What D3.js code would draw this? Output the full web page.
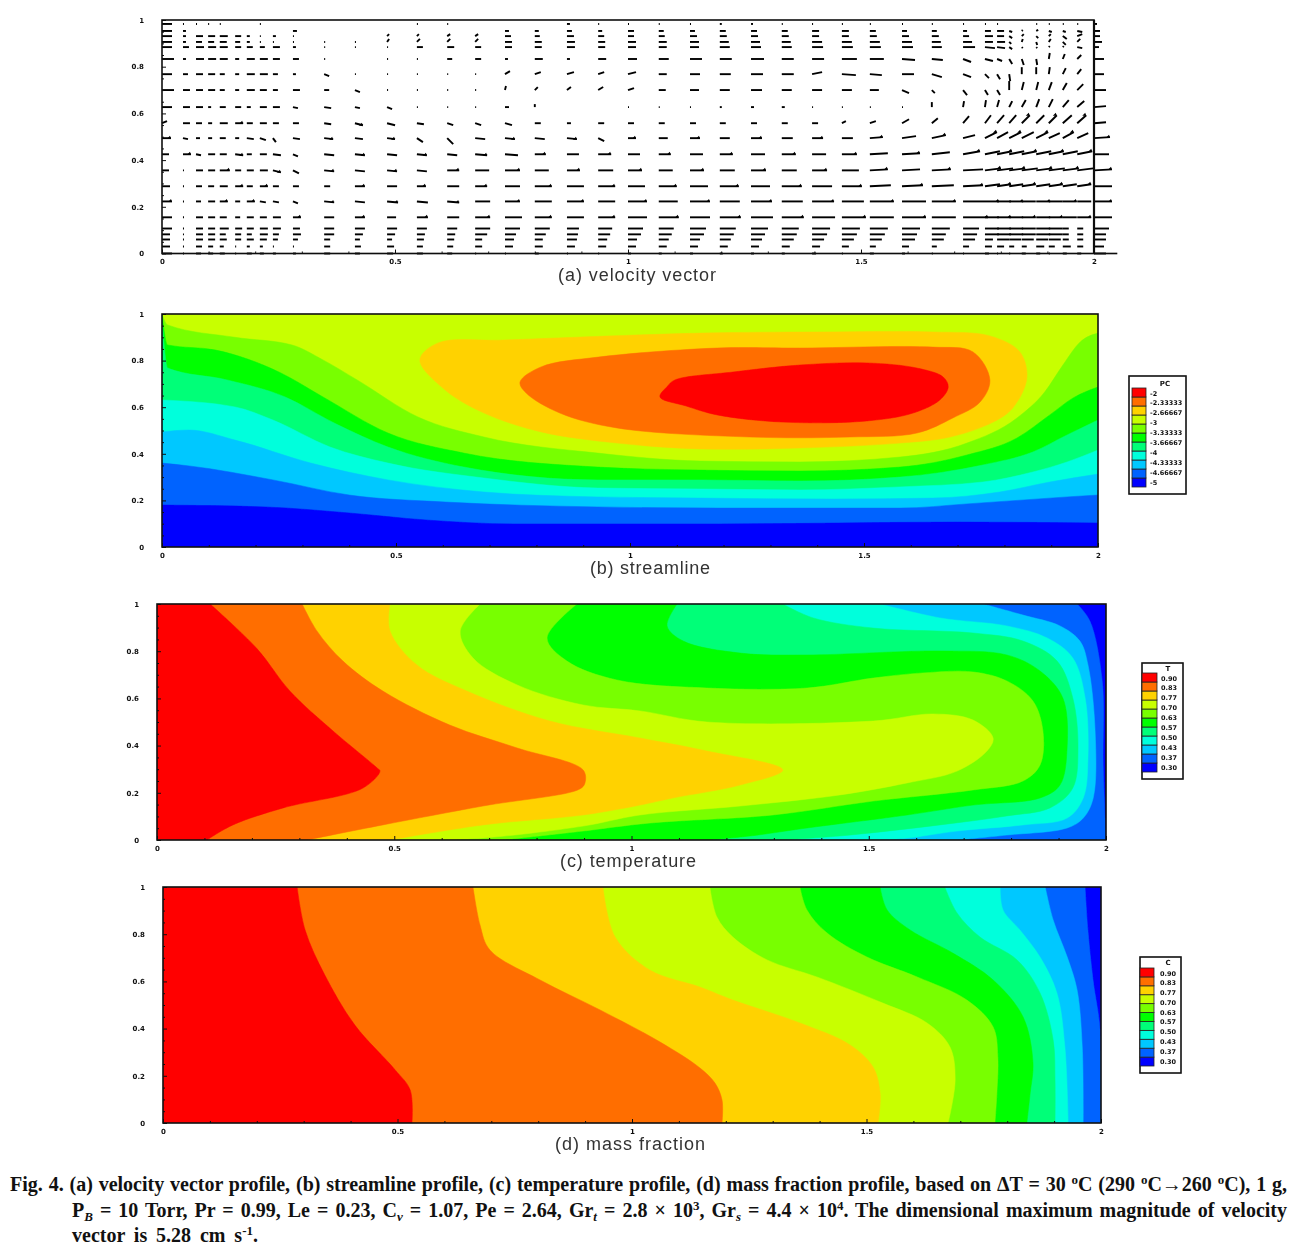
<!DOCTYPE html>
<html>
<head>
<meta charset="utf-8">
<script src="https://cdn.jsdelivr.net/npm/d3@7"></script>
<style>
  html, body { margin:0; padding:0; background:#fff; }
  svg { display:block; }
</style>
</head>
<body>
<div id="figure_container"></div>
<script>
// Colours shared by the three contour panels, coldest to warmest.
var band_colors = ["#0000ff","#0064ff","#00c8ff","#00ffdc","#00ff78","#00ff00","#78ff00","#c8ff00","#ffd200","#ff6e00","#ff0000"];

var x_tick_labels = [0,0.5,1,1.5,2];
var y_tick_labels = [0,0.2,0.4,0.6,0.8,1];
var x_tick_minor  = [0.1,0.2,0.3,0.4,0.6,0.7,0.8,0.9,1.1,1.2,1.3,1.4,1.6,1.7,1.8,1.9];
var y_tick_minor  = [0.05,0.1,0.15,0.25,0.3,0.35,0.45,0.5,0.55,0.65,0.7,0.75,0.85,0.9,0.95];

// (a) velocity vector, node positions and components of each vector.
var vector_x = [0,0.045,0.073,0.099,0.124,0.157,0.182,0.21,0.238,0.281,0.348,0.414,0.483,0.547,0.612,0.672,0.736,0.8,0.869,0.936,1,1.066,1.133,1.197,1.264,1.33,1.395,1.459,1.519,1.588,1.652,1.719,1.766,1.792,1.818,1.845,1.876,1.903,1.933,1.964,2];
var vector_y = [0.983,0.953,0.931,0.906,0.884,0.833,0.768,0.7,0.627,0.558,0.494,0.425,0.356,0.288,0.223,0.155,0.107,0.082,0.06,0.03,0];
var vector_u = [
  [10,1,1,1,1,0,0,1,0,0,0,0,0,1,1,0,0,0,3,1,1,1,1,2,2,1,1,1,1,1,1,1,1,1,0,0,1,1,1,1,3],
  [10,3,0,0,0,0,0,0,0,4,0,0,0,0,0,0,4,4,5,4,6,5,5,6,6,6,7,7,6,5,5,4,6,7,3,1,2,3,3,5,6],
  [10,3,7,7,8,6,3,1,3,1,0,0,2,2,3,3,6,5,7,6,6,6,7,7,7,7,7,7,7,7,7,6,8,7,3,2,2,2,4,5,6],
  [10,3,6,6,7,5,3,1,1,1,1,1,2,3,3,3,7,7,8,7,8,8,9,9,9,9,10,10,10,10,9,9,8,8,2,1,1,2,3,3,8],
  [10,6,8,8,8,6,6,5,7,3,1,1,1,6,7,6,7,7,8,7,8,8,9,10,10,10,11,11,11,11,10,12,10,8,3,1,1,1,1,5,5],
  [12,3,8,8,8,4,8,8,7,6,1,0,1,1,5,6,3,8,3,8,9,10,12,12,13,12,12,15,14,13,11,8,8,5,3,2,1,1,2,4,10],
  [10,5,7,7,5,4,8,8,5,3,5,1,1,1,1,1,5,6,7,6,8,8,10,11,12,12,10,14,12,12,10,8,4,3,1,0,0,1,3,4,10],
  [12,7,7,7,5,4,8,7,5,7,5,5,1,1,1,1,1,3,4,5,6,7,9,10,11,10,10,10,9,7,3,4,3,3,0,2,2,3,4,6,12],
  [10,7,7,3,6,6,4,7,7,5,7,5,5,1,1,1,4,0,0,0,1,1,1,2,3,3,1,1,1,1,0,1,1,2,3,4,3,4,6,7,12],
  [5,7,6,4,8,8,6,7,6,6,7,8,8,7,6,6,7,6,4,6,6,6,6,6,6,6,6,4,6,7,6,6,6,7,7,8,8,8,9,9,12],
  [9,5,4,4,6,4,7,6,3,7,9,8,8,6,6,10,10,10,10,6,8,9,10,10,11,11,11,11,13,14,14,12,12,11,12,12,12,11,11,11,16],
  [7,8,5,7,7,8,5,7,8,5,10,10,10,10,10,12,13,11,12,13,12,12,13,13,14,14,14,15,18,18,18,17,15,15,15,15,15,15,15,15,15],
  [7,1,7,7,10,6,7,8,8,6,10,10,10,10,12,14,15,14,13,15,14,14,14,15,15,15,15,17,18,18,19,20,16,16,16,16,16,16,16,16,18],
  [8,1,6,6,8,8,6,8,6,6,6,10,10,9,12,12,15,17,17,17,17,18,18,19,19,20,20,20,21,21,22,20,15,14,14,14,14,14,14,14,18],
  [10,1,5,7,8,5,8,6,6,5,10,10,11,11,12,15,15,17,17,17,19,19,20,20,21,21,22,22,24,24,24,22,14,14,14,14,14,14,14,14,18],
  [10,1,7,7,7,5,7,7,8,8,10,10,9,11,12,15,17,17,17,17,19,20,20,21,22,22,23,24,24,24,24,25,14,14,14,14,14,14,14,14,18],
  [10,1,7,7,9,7,7,8,8,7,10,10,10,10,10,15,15,15,12,14,15,15,16,16,17,17,18,18,18,18,18,16,14,14,14,14,14,14,6,6,15],
  [8,1,7,7,6,6,5,8,6,8,10,8,8,8,8,12,11,11,11,12,13,13,14,14,14,15,15,15,15,15,14,14,14,14,14,14,14,14,6,6,12],
  [8,1,7,7,7,6,7,7,5,5,6,5,5,7,7,7,9,8,10,9,9,10,10,11,11,12,12,12,12,13,12,12,8,12,12,12,12,12,6,6,12],
  [8,1,6,5,4,1,3,3,1,1,6,6,7,6,6,7,8,8,8,8,8,8,8,8,8,8,8,7,6,7,5,6,7,7,5,5,8,6,8,6,10],
  [10,1,5,5,5,1,5,4,3,3,6,5,6,6,5,1,1,4,1,1,3,3,3,3,3,3,4,1,4,3,1,1,4,1,1,4,4,1,4,4,12]
];
// Rows below the last one listed here are horizontal.
var vector_v = [
  [0,0,0,0,0,0,0,0,0,0,0,0,0,0,0,0,0,0,0,0,0,0,0,0,0,0,0,0,0,0,0,0,0,0,0,0,0,0,0,0,0],
  [0,0,0,0,0,0,0,0,0,0,0,0,0,0,0,0,0,0,0,0,0,0,0,0,0,0,0,0,0,0,0,0,0,0,-1,1,1,-1,-1,-1,0],
  [0,0,0,0,0,0,0,0,0,0,0,0,2,2,2,2,0,0,0,0,0,0,0,0,0,0,0,0,0,0,0,0,0,0,-2,2,-2,2,-3,2,0],
  [0,0,0,0,0,0,0,0,0,0,0,0,3,3,3,3,0,0,0,0,0,0,0,0,0,0,0,0,0,0,0,0,0,0,-2,3,-3,3,-3,3,0],
  [0,0,0,0,0,0,0,0,0,0,0,0,0,0,0,0,0,0,0,0,0,0,0,0,0,0,0,0,0,0,0,0,-1,-1,-2,-1,-1,1,1,-1,0],
  [0,0,0,0,0,0,0,0,0,0,0,0,0,0,0,0,0,0,0,0,0,0,0,0,0,0,0,0,0,-1,-1,-3,-2,-2,-5,-6,-6,6,5,4,0],
  [0,0,0,0,0,0,0,0,0,0,-2,0,0,0,0,0,3,2,2,2,2,0,0,0,0,0,2,-1,-1,0,-3,-3,-4,-5,-7,7,7,7,6,5,0],
  [0,0,0,0,0,0,0,0,0,0,0,-2,0,0,0,0,4,3,3,3,2,0,0,0,0,0,0,0,0,-3,-3,-5,-5,-5,9,8,8,8,7,6,0],
  [0,0,0,0,0,0,0,0,0,-1,-1,-1,-2,0,0,0,0,3,0,0,0,0,0,0,0,0,0,0,0,0,5,6,7,7,6,7,8,8,7,6,1],
  [2,0,0,0,0,0,0,0,0,0,-1,-2,-2,-1,-2,-2,-2,0,0,0,0,0,0,0,0,0,0,2,2,4,5,7,8,8,8,8,8,8,8,8,1],
  [0,-1,0,0,0,0,-1,-2,-4,-1,-1,-1,-1,-4,-6,-1,-1,-1,-1,-3,0,0,0,0,0,0,0,0,1,2,3,3,6,6,6,6,6,5,6,5,1],
  [0,0,-1,0,0,-1,0,0,-1,-2,-1,-1,-1,-1,-1,-1,-1,0,0,0,0,0,0,0,0,0,0,0,1,1,2,3,3,3,3,3,3,3,3,3,0],
  [0,0,0,0,0,0,0,0,-2,-3,-1,-1,-1,-1,0,0,0,0,0,0,0,0,0,0,0,0,0,0,1,1,1,1,2,2,2,2,2,2,2,2,1],
  [0,0,0,0,0,0,0,0,0,0,0,0,0,0,0,0,0,0,0,0,0,0,0,0,0,0,0,0,1,1,1,1,2,2,2,2,2,2,2,2,0],
  [0,0,0,0,0,0,0,-1,-1,-2,-1,-1,-1,-1,-1,0,0,0,0,0,0,0,0,0,0,0,0,0,0,0,0,0,0,0,0,0,0,0,0,0,0]
];

// (b) streamline, level curves, as [x, y].
var stream_dark_blue   = [[0,0.18],[0.22,0.172],[0.40,0.146],[0.564,0.116],[0.752,0.099],[1.19,0.099],[1.7,0.107],[2,0.103]];
var stream_mid_blue    = [[0,0.36],[0.058,0.348],[0.237,0.288],[0.40,0.223],[0.605,0.193],[0.93,0.172],[1.19,0.167],[1.577,0.167],[1.72,0.185],[1.827,0.2],[1.934,0.215],[2,0.223]];
var stream_light_blue  = [[0,0.494],[0.058,0.502],[0.156,0.459],[0.318,0.36],[0.483,0.288],[0.688,0.236],[0.931,0.215],[1.15,0.21],[1.434,0.206],[1.647,0.21],[1.79,0.236],[1.897,0.279],[2,0.313]];
var stream_cyan        = [[0,0.631],[0.156,0.601],[0.237,0.545],[0.359,0.429],[0.483,0.36],[0.688,0.296],[0.931,0.253],[1.15,0.249],[1.363,0.245],[1.577,0.258],[1.754,0.279],[1.861,0.322],[1.934,0.365],[2,0.416]];
var stream_green_cyan  = [[0,0.99],[0.012,0.768],[0.139,0.717],[0.263,0.644],[0.368,0.532],[0.483,0.429],[0.645,0.343],[0.931,0.288],[1.15,0.288],[1.363,0.283],[1.577,0.30],[1.754,0.352],[1.861,0.408],[1.934,0.481],[2,0.545]];
var stream_green       = [[0,1],[0.012,0.867],[0.115,0.845],[0.254,0.747],[0.344,0.644],[0.483,0.489],[0.645,0.403],[0.931,0.343],[1.15,0.33],[1.363,0.326],[1.577,0.343],[1.72,0.395],[1.827,0.468],[1.897,0.567],[1.947,0.64],[2,0.687]];
var stream_light_green = [[0,1],[0.012,0.953],[0.156,0.90],[0.278,0.867],[0.344,0.803],[0.417,0.717],[0.547,0.558],[0.688,0.472],[0.931,0.403],[1.15,0.369],[1.363,0.365],[1.577,0.386],[1.72,0.446],[1.827,0.554],[1.886,0.665],[1.925,0.781],[1.962,0.88],[2,0.918]];
var stream_yellow      = [[0.551,0.803],[0.59,0.876],[0.729,0.888],[1.15,0.918],[1.40,0.923],[1.647,0.923],[1.769,0.906],[1.833,0.837],[1.848,0.725],[1.818,0.597],[1.776,0.536],[1.684,0.472],[1.577,0.446],[1.363,0.425],[1.15,0.421],[0.972,0.446],[0.81,0.494],[0.688,0.575],[0.605,0.674]];
var stream_orange      = [[0.765,0.708],[0.81,0.773],[0.932,0.815],[1.186,0.854],[1.363,0.854],[1.647,0.858],[1.733,0.837],[1.769,0.717],[1.748,0.622],[1.69,0.554],[1.613,0.489],[1.47,0.472],[1.256,0.472],[0.972,0.511],[0.85,0.575],[0.778,0.661]];
var stream_red         = [[1.064,0.644],[1.08,0.69],[1.096,0.717],[1.22,0.751],[1.363,0.781],[1.506,0.79],[1.613,0.768],[1.669,0.73],[1.68,0.687],[1.662,0.631],[1.605,0.575],[1.506,0.541],[1.327,0.536],[1.186,0.567],[1.12,0.605]];

// (c) temperature, each curve runs from the top wall to the bottom wall.
var temp_mid_blue    = [[1.939,1],[1.966,0.928],[1.992,0.674],[1.994,0.318],[2,0]];
var temp_light_blue  = [[1.741,1],[1.825,0.953],[1.903,0.907],[1.945,0.843],[1.962,0.742],[1.977,0.462],[1.973,0.178],[1.952,0.093],[1.918,0.051],[1.791,0.021],[1.686,0]];
var temp_cyan        = [[1.524,1],[1.65,0.941],[1.791,0.907],[1.876,0.856],[1.93,0.771],[1.956,0.602],[1.962,0.347],[1.952,0.178],[1.918,0.093],[1.825,0.064],[1.686,0.038],[1.581,0.008],[1.524,0]];
var temp_green_cyan  = [[1.319,1],[1.383,0.941],[1.509,0.898],[1.72,0.877],[1.825,0.843],[1.897,0.758],[1.93,0.602],[1.941,0.39],[1.93,0.22],[1.882,0.136],[1.791,0.102],[1.65,0.064],[1.439,0.017],[1.313,0]];
var temp_green       = [[1.096,1],[1.075,0.907],[1.109,0.843],[1.229,0.792],[1.37,0.784],[1.65,0.801],[1.791,0.784],[1.861,0.716],[1.909,0.602],[1.918,0.39],[1.903,0.233],[1.861,0.178],[1.72,0.148],[1.581,0.106],[1.37,0.051],[1.25,0.017],[1.159,0]];
var temp_light_green = [[0.885,1],[0.822,0.856],[0.864,0.758],[0.969,0.678],[1.159,0.644],[1.37,0.644],[1.509,0.686],[1.614,0.708],[1.72,0.712],[1.791,0.674],[1.846,0.589],[1.867,0.462],[1.861,0.318],[1.825,0.25],[1.72,0.212],[1.509,0.165],[1.298,0.106],[1.039,0.072],[0.898,0.038],[0.729,0]];
var temp_yellow_green = [[0.681,1],[0.639,0.886],[0.666,0.771],[0.759,0.657],[0.898,0.572],[1.018,0.547],[1.159,0.5],[1.509,0.504],[1.635,0.534],[1.72,0.508],[1.762,0.432],[1.749,0.377],[1.686,0.292],[1.581,0.242],[1.439,0.191],[1.229,0.144],[1.018,0.106],[0.898,0.059],[0.687,0.008],[0.582,0]];
var temp_yellow      = [[0.491,1],[0.491,0.886],[0.548,0.741],[0.653,0.631],[0.828,0.504],[1.018,0.432],[1.159,0.377],[1.319,0.297],[1.229,0.233],[1.087,0.178],[1.018,0.148],[0.898,0.106],[0.687,0.064],[0.491,0]];
var temp_orange      = [[0.306,1],[0.337,0.886],[0.392,0.758],[0.476,0.631],[0.617,0.487],[0.759,0.39],[0.898,0.297],[0.902,0.242],[0.891,0.216],[0.687,0.144],[0.476,0.064],[0.316,0]];
var temp_red         = [[0.112,1],[0.211,0.81],[0.28,0.631],[0.371,0.462],[0.464,0.305],[0.47,0.292],[0.434,0.22],[0.266,0.136],[0.16,0.064],[0.105,0]];

// (d) mass fraction.
var mass_mid_blue    = [[1.966,1],[1.972,0.818],[1.983,0.606],[1.998,0.394],[2,0]];
var mass_light_blue  = [[1.881,1],[1.898,0.86],[1.928,0.703],[1.949,0.564],[1.96,0.322],[1.962,0]];
var mass_cyan        = [[1.785,1],[1.791,0.903],[1.827,0.818],[1.87,0.703],[1.906,0.551],[1.923,0.322],[1.93,0]];
var mass_green_cyan  = [[1.667,1],[1.693,0.89],[1.742,0.788],[1.821,0.691],[1.87,0.551],[1.898,0.352],[1.902,0.182],[1.902,0]];
var mass_green       = [[1.529,1],[1.544,0.903],[1.593,0.818],[1.684,0.72],[1.77,0.606],[1.834,0.449],[1.855,0.254],[1.849,0.127],[1.842,0]];
var mass_light_green = [[1.358,1],[1.373,0.903],[1.416,0.805],[1.501,0.703],[1.608,0.619],[1.714,0.521],[1.77,0.407],[1.78,0.28],[1.778,0.127],[1.774,0]];
var mass_yellow_green = [[1.166,1],[1.181,0.873],[1.215,0.788],[1.288,0.691],[1.394,0.619],[1.535,0.508],[1.629,0.424],[1.678,0.322],[1.689,0.182],[1.674,0]];
var mass_yellow      = [[0.938,1],[0.964,0.788],[1.038,0.648],[1.145,0.576],[1.215,0.521],[1.358,0.424],[1.465,0.331],[1.514,0.237],[1.529,0.127],[1.525,0]];
var mass_orange      = [[0.661,1],[0.676,0.839],[0.697,0.733],[0.804,0.606],[0.932,0.479],[1.06,0.343],[1.145,0.233],[1.177,0.169],[1.192,0.097],[1.192,0]];
var mass_red         = [[0.286,1],[0.303,0.818],[0.345,0.627],[0.409,0.415],[0.495,0.225],[0.527,0.14],[0.531,0]];

// Legend tick labels, largely unreadable in the source and so estimated.
var legend_stream_labels = ["-2","-2.33333","-2.66667","-3","-3.33333","-3.66667","-4","-4.33333","-4.66667","-5"];
var legend_temp_labels   = ["0.90","0.83","0.77","0.70","0.63","0.57","0.50","0.43","0.37","0.30"];
var legend_mass_labels   = ["0.90","0.83","0.77","0.70","0.63","0.57","0.50","0.43","0.37","0.30"];

var figure_dimension = { height:1258,width:1294 };
var tick_font        = "bold 7px 'DejaVu Sans', sans-serif";

var figure_svg = d3.select("#figure_container").append("svg")
  .attr("height", figure_dimension.height)
  .attr("width", figure_dimension.width);

// The source is a low resolution scan, a light blur keeps that soft look.
figure_svg.append("defs").append("filter")
  .attr("id", "scan_soft")
  .attr("x", "-2%").attr("y", "-2%").attr("width", "104%").attr("height", "104%")
  .append("feGaussianBlur")
  .attr("stdDeviation", 0.35);

var figure_group = figure_svg.append("g").attr("filter", "url(#scan_soft)");

function panel_create (_id, _left, _right, _top, _bottom, _label, _label_left, _label_right, _label_base) {
  var panel = {};
  panel.x = d3.scaleLinear().domain([0,2]).range([_left,_right]);
  panel.y = d3.scaleLinear().domain([0,1]).range([_bottom,_top]);
  panel.group = figure_group.append("g").attr("id", "panel_" + _id);
  panel.id = _id;
  panel.label = _label;
  panel.label_left = _label_left;
  panel.label_right = _label_right;
  panel.label_base = _label_base;
  return panel;
}

function panel_fill (_panel, _background_color) {
  _panel.group.append("clipPath")
    .attr("id", "clip_" + _panel.id)
    .append("rect")
    .attr("x", _panel.x(0))
    .attr("y", _panel.y(1))
    .attr("width", _panel.x(2) - _panel.x(0))
    .attr("height", _panel.y(0) - _panel.y(1));
  _panel.bands = _panel.group.append("g").attr("clip-path", "url(#clip_" + _panel.id + ")");
  _panel.bands.append("rect")
    .attr("x", _panel.x(0))
    .attr("y", _panel.y(1))
    .attr("width", _panel.x(2) - _panel.x(0))
    .attr("height", _panel.y(0) - _panel.y(1))
    .style("fill", _background_color);
}

// A region is a smoothed level curve, then straight runs to the given corners.
function panel_region (_panel, _curve_points, _corners, _curve, _color) {
  var level_line = d3.line()
    .curve(_curve)
    .x(function (d) { return _panel.x(d[0]); })
    .y(function (d) { return _panel.y(d[1]); });
  var path_text = level_line(_curve_points);
  _corners.forEach(function (corner) {
    path_text += "L" + _panel.x(corner[0]) + "," + _panel.y(corner[1]);
  });
  _panel.bands.append("path")
    .attr("d", path_text + "Z")
    .style("fill", _color)
    .style("stroke", _color)
    .style("stroke-width", 0.5);
}

function panel_axes (_panel, _right_extend) {
  var g = _panel.group;
  var bottom = _panel.y(0);
  var left   = _panel.x(0);

  var axis_bottom = g.append("g").attr("transform", "translate(0," + bottom + ")");
  axis_bottom.call(d3.axisBottom(_panel.x).tickValues(x_tick_minor).tickSize(-2).tickFormat(""));
  axis_bottom.append("g").call(d3.axisBottom(_panel.x).tickValues(x_tick_labels).tickSize(-4).tickPadding(6).tickFormat(d3.format("~g")));

  var axis_left = g.append("g").attr("transform", "translate(" + left + ",0)");
  axis_left.call(d3.axisLeft(_panel.y).tickValues(y_tick_minor).tickSize(-2).tickFormat(""));
  axis_left.append("g").call(d3.axisLeft(_panel.y).tickValues(y_tick_labels).tickSize(-4).tickPadding(18).tickFormat(d3.format("~g")));

  g.selectAll(".domain").remove();
  g.selectAll(".tick line").style("stroke", "#111");
  g.selectAll(".tick text").style("font", tick_font).style("fill", "#111");

  g.append("rect")
    .attr("x", left)
    .attr("y", _panel.y(1))
    .attr("width", _panel.x(2) - left)
    .attr("height", bottom - _panel.y(1))
    .style("fill", "none")
    .style("stroke", "#111")
    .style("stroke-width", 1.6);

  if (_right_extend) {
    g.append("line")
      .attr("x1", _panel.x(2))
      .attr("x2", _panel.x(_right_extend))
      .attr("y1", bottom)
      .attr("y2", bottom)
      .style("stroke", "#111")
      .style("stroke-width", 1.6);
  }

  g.append("text")
    .attr("x", _panel.label_left)
    .attr("y", _panel.label_base)
    .attr("textLength", _panel.label_right - _panel.label_left)
    .attr("lengthAdjust", "spacing")
    .style("font", "18px 'Liberation Sans', Arial, sans-serif")
    .style("fill", "#333")
    .text(_panel.label);
}

function panel_legend (_box, _title, _labels, _label_x) {
  var g = figure_group.append("g");
  g.append("rect")
    .attr("x", _box.x)
    .attr("y", _box.y)
    .attr("width", _box.width)
    .attr("height", _box.height)
    .style("fill", "#fff")
    .style("stroke", "#111")
    .style("stroke-width", 1.6);

  var swatch_scale = d3.scaleBand()
    .domain(d3.range(band_colors.length).reverse())
    .range([_box.bar_top, _box.bar_bottom]);

  g.selectAll("rect.legend_swatch")
    .data(band_colors)
    .enter().append("rect")
    .attr("class", "legend_swatch")
    .attr("x", _box.bar_left)
    .attr("y", function (d, i) { return swatch_scale(i); })
    .attr("width", _box.bar_width)
    .attr("height", swatch_scale.bandwidth())
    .style("fill", function (d) { return d; })
    .style("stroke", "#222")
    .style("stroke-width", 0.8);

  var label_scale = d3.scalePoint()
    .domain(_labels.map(function (d, i) { return i; }))
    .range([_box.bar_top + 5, _box.bar_bottom - 5]);

  g.selectAll("text.legend_label")
    .data(_labels)
    .enter().append("text")
    .attr("class", "legend_label")
    .attr("x", _label_x)
    .attr("y", function (d, i) { return label_scale(i) + 2.5; })
    .style("font", "bold 6.5px 'DejaVu Sans', sans-serif")
    .style("fill", "#111")
    .text(function (d) { return d; });

  g.append("text")
    .attr("x", _box.title_x)
    .attr("y", _box.title_y)
    .attr("text-anchor", "middle")
    .style("font", "bold 7px 'DejaVu Sans', sans-serif")
    .style("fill", "#111")
    .text(_title);
}

// Panel (a), vectors.
var panel_a = panel_create("a", 162, 1094, 20, 253.5, "(a) velocity vector", 558, 716, 281);
var vector_length = d3.scaleLinear().domain([0,25]).range([0,25]);

vector_u.forEach(function (row_values, row_index) {
  row_values.forEach(function (u_value, col_index) {
    var v_value = vector_v[row_index] ? vector_v[row_index][col_index] : 0;
    if (u_value === 0 && v_value === 0) return;
    var x_1 = panel_a.x(vector_x[col_index]);
    var y_1 = panel_a.y(vector_y[row_index]);
    var x_2 = x_1 + vector_length(u_value);
    var y_2 = y_1 - vector_length(v_value);
    panel_a.group.append("line")
      .attr("x1", x_1)
      .attr("y1", y_1)
      .attr("x2", x_2)
      .attr("y2", y_2)
      .style("stroke", "#000")
      .style("stroke-width", 1.9);
    // Only the longer vectors show a head at this resolution.
    if (u_value >= 8 && row_index > 8 && row_index < 16 && (row_index + col_index) % 2 == 0) {
      panel_a.group.append("path")
        .attr("d", d3.line()([[x_2 - 4, y_2 + 0.5],[x_2 - 1, y_2 - 2.5],[x_2, y_2 + 0.5]]))
        .style("fill", "#000");
    }
  });
});
panel_axes(panel_a, 2.05);
panel_a.group.append("line")
  .attr("x1", panel_a.x(2))
  .attr("x2", panel_a.x(2))
  .attr("y1", panel_a.y(1))
  .attr("y2", panel_a.y(0))
  .style("stroke", "#111")
  .style("stroke-width", 2.2);

// Panel (b), streamline.
var panel_b = panel_create("b", 162, 1098, 314, 547, "(b) streamline", 590, 710, 574);
panel_fill(panel_b, band_colors[7]);
var corners_below = [[2,0],[0,0]];
[
  [stream_light_green, 6],
  [stream_green,       5],
  [stream_green_cyan,  4],
  [stream_cyan,        3],
  [stream_light_blue,  2],
  [stream_mid_blue,    1],
  [stream_dark_blue,   0]
].forEach(function (level) {
  panel_region(panel_b, level[0], corners_below, d3.curveMonotoneX, band_colors[level[1]]);
});
[
  [stream_yellow, 8],
  [stream_orange, 9],
  [stream_red,   10]
].forEach(function (level) {
  panel_region(panel_b, level[0], [], d3.curveCatmullRomClosed, band_colors[level[1]]);
});
panel_axes(panel_b, 0);

// Panels (c) and (d), each warmer level paints over the colder one.
var corners_left = [[0,0],[0,1]];

var panel_c = panel_create("c", 157, 1106, 604, 840, "(c) temperature", 560, 696, 867);
panel_fill(panel_c, band_colors[0]);
[temp_mid_blue,temp_light_blue,temp_cyan,temp_green_cyan,temp_green,temp_light_green,temp_yellow_green,temp_yellow,temp_orange,temp_red].forEach(function (level, i) {
  panel_region(panel_c, level, corners_left, d3.curveCatmullRom, band_colors[i + 1]);
});
panel_axes(panel_c, 0);

var panel_d = panel_create("d", 163, 1101, 887, 1123, "(d) mass fraction", 555, 705, 1150);
panel_fill(panel_d, band_colors[0]);
[mass_mid_blue,mass_light_blue,mass_cyan,mass_green_cyan,mass_green,mass_light_green,mass_yellow_green,mass_yellow,mass_orange,mass_red].forEach(function (level, i) {
  panel_region(panel_d, level, corners_left, d3.curveCatmullRom, band_colors[i + 1]);
});
panel_axes(panel_d, 0);

panel_legend({ x:1129,y:376,width:57,height:118,bar_left:1132,bar_width:14,bar_top:388,bar_bottom:487,title_x:1165,title_y:386 }, "PC", legend_stream_labels, 1150);
panel_legend({ x:1142,y:663,width:41,height:116,bar_left:1142,bar_width:15,bar_top:673,bar_bottom:772,title_x:1168,title_y:671 }, "T", legend_temp_labels, 1161);
panel_legend({ x:1140,y:957,width:41,height:116,bar_left:1140,bar_width:14,bar_top:968,bar_bottom:1066,title_x:1168,title_y:965 }, "C", legend_mass_labels, 1160);

// Caption, lines are set to full measure by stretching the word gaps.
var caption_line_1 = [["Fig. 4. (a) velocity vector profile, (b) streamline profile, (c) temperature profile, (d) mass fraction profile, based on \u0394T = 30 "],["o","sup"],["C (290 "],["o","sup"],["C\u2192260 "],["o","sup"],["C), 1 g,"]];
var caption_line_2 = [["P"],["B","sub"],[" = 10 Torr, Pr = 0.99, Le = 0.23, C"],["v","sub"],[" = 1.07, Pe = 2.64, Gr"],["t","sub"],[" = 2.8 \u00d7 10"],["3","sup"],[", Gr"],["s","sub"],[" = 4.4 \u00d7 10"],["4","sup"],[". The dimensional maximum magnitude of velocity"]];
var caption_line_3 = [["vector is 5.28 cm s"],["-1","sup"],["."]];

function caption_write (_segments, _left, _baseline, _right) {
  var text = figure_svg.append("text")
    .attr("x", _left)
    .attr("y", _baseline)
    .style("font", "bold 20px 'Liberation Serif', 'Times New Roman', serif")
    .style("fill", "#111");
  var shift = 0;
  _segments.forEach(function (segment) {
    var tspan = text.append("tspan").text(segment[0]);
    var dy = -shift;
    if (segment[1] == "sup") { dy -= 7; shift = -7; }
    else if (segment[1] == "sub") { dy += 4; shift = 4; }
    else { shift = 0; }
    tspan.attr("dy", dy);
    if (segment[1]) {
      tspan.style("font-size", "13px");
      if (segment[1] == "sub") tspan.style("font-style", "italic");
    }
  });
  var gap_count = _segments.map(function (d) { return d[0]; }).join("").split(" ").length - 1;
  var text_width = text.node().getComputedTextLength();
  text.style("word-spacing", ((_right - _left - text_width)/gap_count) + "px");
}

caption_write(caption_line_1, 10, 1191, 1287);
caption_write(caption_line_2, 72, 1217, 1287);
caption_write(caption_line_3, 72, 1242, 258);
</script>
</body>
</html>
